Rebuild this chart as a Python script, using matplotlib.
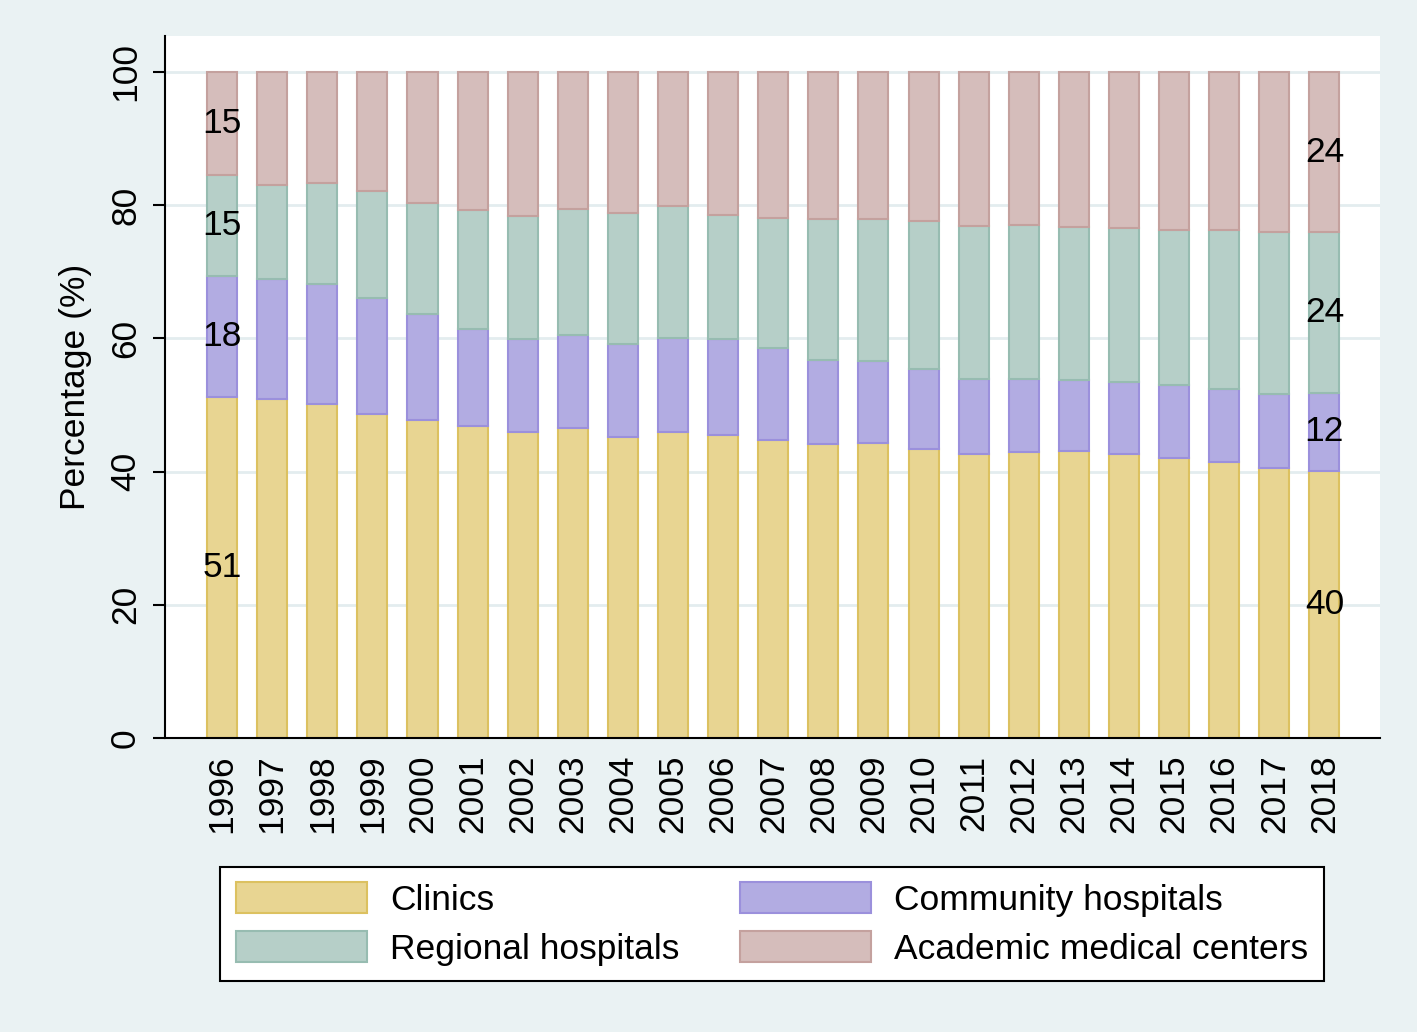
import numpy as np
import matplotlib
matplotlib.use("Agg")
import matplotlib.pyplot as plt
from matplotlib.patches import Patch

plt.rcParams["font.family"] = ["Liberation Sans", "DejaVu Sans"]

# =============================
# DATA (share of visits, %)
# =============================
years = [str(y) for y in range(1996, 2019)]

clinics = [51.2, 50.9, 50.2, 48.6, 47.7, 46.9, 46.0, 46.5, 45.2, 46.0, 45.5, 44.7,
           44.1, 44.3, 43.4, 42.6, 43.0, 43.1, 42.6, 42.1, 41.5, 40.6, 40.1]
community = [18.2, 18.0, 17.9, 17.4, 16.0, 14.5, 13.9, 14.0, 14.0, 14.0, 14.4, 13.9,
             12.7, 12.3, 12.0, 11.3, 10.9, 10.7, 10.8, 10.9, 10.9, 11.0, 11.7]
regional = [15.2, 14.2, 15.3, 16.2, 16.7, 17.9, 18.5, 18.9, 19.6, 19.9, 18.6, 19.5,
            21.1, 21.3, 22.2, 23.0, 23.1, 22.9, 23.2, 23.3, 23.8, 24.3, 24.1]
academic = [15.4, 16.9, 16.6, 17.8, 19.6, 20.7, 21.6, 20.6, 21.2, 20.1, 21.5, 21.9,
            22.1, 22.1, 22.4, 23.1, 23.0, 23.3, 23.4, 23.7, 23.8, 24.1, 24.1]

series = ["Clinics", "Community hospitals", "Regional hospitals", "Academic medical centers"]
values = [clinics, community, regional, academic]
fills = ["#E8D592", "#B2ACE2", "#B6CFC8", "#D5BDBB"]
edges = ["#DCC160", "#9B90DC", "#97BCB1", "#C4A19E"]

bg = "#EAF2F3"
fs = 25.5

fig = plt.figure(figsize=(14.17, 10.32), dpi=100, facecolor=bg)
ax = fig.add_axes([165 / 1417, 1 - 738 / 1032, (1380 - 165) / 1417, (738 - 36) / 1032])
ax.set_facecolor("white")

x = np.arange(len(years))
bottom = np.zeros(len(years))
containers = []
for name, vals, fc, ec in zip(series, values, fills, edges):
    vals = np.array(vals)
    bars = ax.bar(x, vals, 0.6, bottom=bottom, color=fc, edgecolor=ec,
                  linewidth=1.5, label=name, zorder=2)
    containers.append(bars)
    bottom = bottom + vals

# labels only on first and last bar
for bars, vals in zip(containers, values):
    labs = ["" for _ in vals]
    labs[0] = "%.0f" % vals[0]
    labs[-1] = "%.0f" % vals[-1]
    ax.bar_label(bars, labels=labs, label_type="center", fontsize=fs, color="black")

ax.set_ylim(0, 105.4)
ax.set_xlim(-1.14, 23.11)
ax.set_yticks([0, 20, 40, 60, 80, 100])
ax.set_yticklabels(["0", "20", "40", "60", "80", "100"], rotation=90, va="center", fontsize=fs)
ax.set_xticks(x)
ax.set_xticklabels(years, rotation=90, fontsize=fs)
ax.tick_params(axis="y", length=8.5, width=1.5, pad=8)
ax.tick_params(axis="x", length=0, pad=12)
ax.set_ylabel("Percentage (%)", fontsize=fs, labelpad=12)
ax.grid(axis="y", color="#E3EDEF", linewidth=2, zorder=0)
ax.set_axisbelow(True)
for s in ["top", "right"]:
    ax.spines[s].set_visible(False)
ax.spines["left"].set_linewidth(1.5)
ax.spines["bottom"].set_linewidth(1.5)

handles = [Patch(facecolor=fc, edgecolor=ec, linewidth=1.5) for fc, ec in zip(fills, edges)]
order = [0, 2, 1, 3]
leg = fig.legend([handles[i] for i in order], [series[i] for i in order], ncol=2,
                 loc="center", bbox_to_anchor=((210 + 1334) / 2 / 1417, 1 - 924 / 1032),
                 fontsize=fs, frameon=True, fancybox=False, edgecolor="black",
                 framealpha=1, facecolor="white",
                 handlelength=3.7, handleheight=0.95, columnspacing=1.7,
                 labelspacing=0.4, handletextpad=0.65, borderpad=0.45)
leg.get_frame().set_linewidth(1.5)

fig.savefig("out.png", dpi=100, facecolor=bg)
